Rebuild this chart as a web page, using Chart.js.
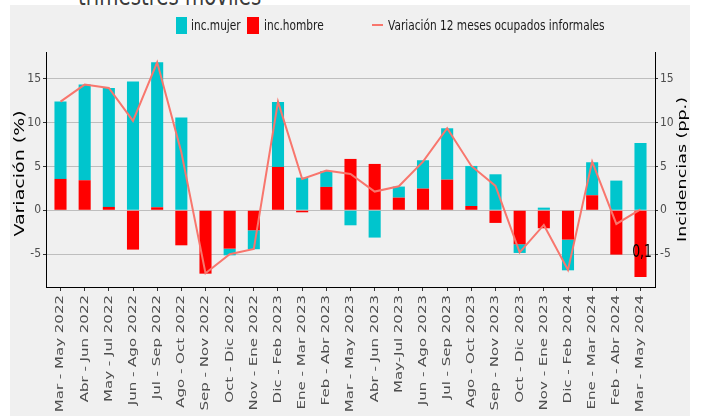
<!DOCTYPE html>
<html lang="es">
<head>
<meta charset="utf-8">
<title>Ocupados informales - trimestres móviles</title>
<script src="https://cdn.jsdelivr.net/npm/chart.js@4.4.1/dist/chart.umd.min.js"></script>
<style>
  html, body { margin: 0; padding: 0; background: #fff; }
  body { width: 702px; height: 416px; position: relative; overflow: hidden; font-family: "DejaVu Sans", sans-serif; }
  #title { position: absolute; left: 78px; top: -18px; font-size: 27px; line-height: 27px; color: #3c3c3c; white-space: nowrap; transform: scaleX(0.73); transform-origin: 0 50%; }
  #panel { position: absolute; left: 10px; top: 5px; width: 680px; height: 411px; background: #f0f0f0; }
  #chartBox { position: absolute; left: 0; top: 0; width: 680px; height: 411px; }
  .box { position: absolute; top: 12px; width: 11px; height: 17px; }
  .key { position: absolute; top: 19px; width: 11px; height: 2px; background: #F8766D; }
  .label { position: absolute; top: 13px; font-size: 14.5px; line-height: 14.5px; color: #1a1a1a; white-space: nowrap; transform: scaleX(0.73); transform-origin: 0 50%; }
</style>
</head>
<body>
<div id="title">trimestres móviles</div>
<div id="panel">
  <div id="chartBox"><canvas id="chart"></canvas></div>
  <div class="box" style="left:166px; background:#00C5CD;"></div>
  <span class="label" style="left:181px;">inc.mujer</span>
  <div class="box" style="left:237px; width:12px; background:#FF0000;"></div>
  <span class="label" style="left:254px;">inc.hombre</span>
  <div class="key" style="left:362px;"></div>
  <span class="label" style="left:378px;">Variación 12 meses ocupados informales</span>
</div>
<script>
const periods = [
    "Mar - May 2022", "Abr - Jun 2022", "May - Jul 2022", "Jun - Ago 2022", "Jul - Sep 2022",
    "Ago - Oct 2022", "Sep - Nov 2022", "Oct - Dic 2022", "Nov - Ene 2022", "Dic - Feb 2023",
    "Ene - Mar 2023", "Feb - Abr 2023", "Mar - May 2023", "Abr - Jun 2023", "May-Jul 2023",
    "Jun - Ago 2023", "Jul - Sep 2023", "Ago - Oct 2023", "Sep - Nov 2023", "Oct - Dic 2023",
    "Nov - Ene 2023", "Dic - Feb 2024", "Ene - Mar 2024", "Feb - Abr 2024", "Mar - May 2024"
];
const incMujer = [8.81, 10.9, 13.56, 14.66, 16.52, 10.56, 0, -0.76, -2.16, 7.4, 3.72, 1.82, -1.71,
    -3.11, 1.26, 3.23, 5.85, 4.56, 4.1, -0.99, 0.3, -3.5, 3.76, 3.38, 7.67];
const incHombre = [3.57, 3.42, 0.38, -4.48, 0.34, -3.99, -7.22, -4.37, -2.28, 4.94, -0.23, 2.66, 5.85,
    5.28, 1.44, 2.47, 3.49, 0.49, -1.44, -3.87, -2.05, -3.34, 1.71, -5.05, -7.6];
const variacion = [12.38, 14.32, 13.94, 10.18, 16.86, 6.6, -7.18, -5.01, -4.4, 12.38, 3.57, 4.52, 4.14,
    2.13, 2.73, 5.54, 9.34, 5.05, 2.77, -4.79, -1.67, -6.8, 5.54, -1.56, 0.11];
const yTicks = [-5, 0, 5, 10, 15];
const yMin = -8.74;
const yMax = 18.03;
const xMin = -0.6;
const xMax = periods.length - 0.4;
// where the label of the last value sits (ggplot geom_text was nudged down)
const lastLabelY = -5.3;

const GRAY_TEXT = "#4d4d4d";
const TICK_FONT = { family: "'DejaVu Sans Condensed', 'Liberation Sans Narrow', sans-serif", size: 12 };
// the original png was squeezed sideways, so glyphs are narrower than normal
const SQUEEZE = 0.73;

function drawVertical(ctx, text, x, y, size, align) {
    ctx.save();
    ctx.translate(x, y);
    ctx.rotate(-Math.PI / 2);
    ctx.scale(1, SQUEEZE);
    ctx.font = `${size}px "DejaVu Sans"`;
    ctx.textAlign = align;
    ctx.textBaseline = "middle";
    ctx.fillText(text, 0, 0);
    ctx.restore();
}

const extraText = {
    id: "extraText",
    afterDraw(chart) {
        const { ctx, chartArea, scales } = chart;
        const midY = (chartArea.top + chartArea.bottom) / 2;
        ctx.save();

        // period labels under the x axis
        ctx.fillStyle = GRAY_TEXT;
        periods.forEach((p, i) => {
            drawVertical(ctx, p, scales.x.getPixelForValue(i), chartArea.bottom + 8, 15, "right");
        });

        ctx.fillStyle = "#000";
        drawVertical(ctx, "Variación (%)", chartArea.left - 26, midY + 4, 19, "center");
        drawVertical(ctx, "Incidencias (pp.)", chartArea.right + 28, midY, 17.5, "center");

        const last = variacion.length - 1;
        ctx.translate(scales.x.getPixelForValue(last) + 1.5, scales.y.getPixelForValue(lastLabelY));
        ctx.scale(SQUEEZE, 1);
        ctx.font = '17px "DejaVu Sans"';
        ctx.textAlign = "center";
        ctx.textBaseline = "alphabetic";
        ctx.fillText(variacion[last].toFixed(1).replace(".", ","), 0, 0);
        ctx.restore();
    }
};

function valueAxis(position, width, onChart) {
    return {
        position: position,
        min: yMin,
        max: yMax,
        stacked: true,
        afterBuildTicks: s => { s.ticks = yTicks.map(v => ({ value: v })); },
        afterFit: s => { s.width = width; },
        grid: { display: true, drawOnChartArea: onChart, color: "#bebebe", tickColor: "#333", tickLength: 3 },
        border: { display: true, color: "#000", width: 1 },
        ticks: { padding: 2, color: GRAY_TEXT, font: TICK_FONT }
    };
}

new Chart(document.getElementById("chart"), {
    type: "bar",
    data: {
        labels: periods.map((p, i) => i),
        datasets: [
            {
                type: "line",
                label: "Variación 12 meses ocupados informales",
                data: variacion,
                borderColor: "#F8766D",
                borderWidth: 2,
                pointRadius: 0,
                tension: 0,
                stack: "linea"
            },
            { label: "inc.hombre", data: incHombre, backgroundColor: "#FF0000", stack: "inc" },
            { label: "inc.mujer", data: incMujer, backgroundColor: "#00C5CD", stack: "inc" }
        ]
    },
    options: {
        responsive: true,
        maintainAspectRatio: false,
        animation: false,
        layout: { padding: { top: 47 } },
        datasets: { bar: { barPercentage: 0.5, categoryPercentage: 1 } },
        plugins: { legend: { display: false }, tooltip: { enabled: false } },
        scales: {
            x: {
                type: "linear",
                min: xMin,
                max: xMax,
                offset: false,
                stacked: true,
                afterBuildTicks: s => { s.ticks = periods.map((p, i) => ({ value: i })); },
                afterFit: s => { s.height = 129; },
                grid: { offset: false, drawOnChartArea: false, tickColor: "#333", tickLength: 4 },
                border: { display: true, color: "#000", width: 1 },
                ticks: { display: false }
            },
            y: valueAxis("left", 36, true),
            y2: valueAxis("right", 35, false)
        }
    },
    plugins: [extraText]
});
</script>
</body>
</html>
